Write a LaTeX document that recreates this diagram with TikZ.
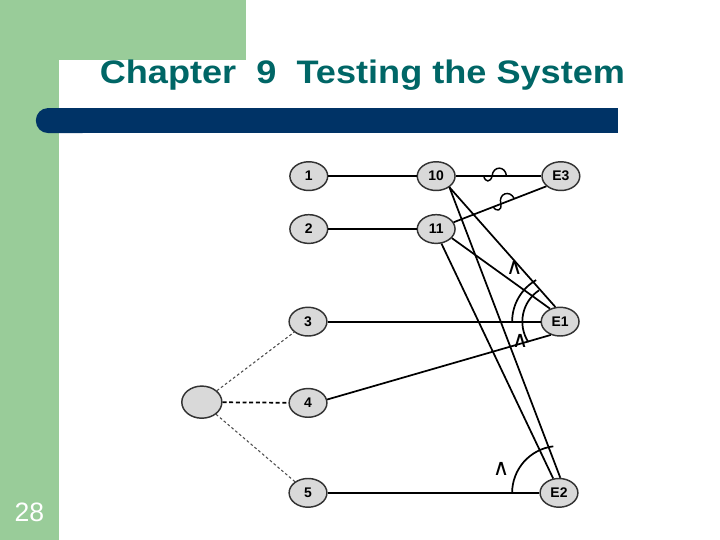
\documentclass[tikz,border=0pt]{standalone}
\usepackage{fontspec}
\setmainfont{Liberation Sans}
\newfontfamily\markfont{DejaVu Sans}
\usetikzlibrary{shapes.geometric}
\definecolor{slidegreen}{RGB}{153,204,153}
\definecolor{slidenavy}{RGB}{0,51,102}
\definecolor{slideteal}{RGB}{0,102,102}
\definecolor{causegray}{RGB}{217,217,217}

\begin{document}
\begin{tikzpicture}[
  cause/.style={ellipse,draw=black!80,line width=1.1pt,fill=causegray,minimum width=1.0cm,minimum height=0.76cm,inner sep=0pt,font=\fontsize{10.5}{11}\selectfont\bfseries},
  wire/.style={line width=1.3pt},
  thinwire/.style={line width=0.8pt,black!70,dash pattern=on 2pt off 1.8pt},
  thickwire/.style={line width=1.3pt,dash pattern=on 3pt off 2pt},
  andmark/.style={inner sep=0pt,font=\markfont\fontsize{17}{17}\selectfont},
  notsign/.pic={\draw[line width=1.1pt] (-0.3,0) .. controls (-0.26,-0.17) and (-0.12,-0.17) .. (-0.08,0) .. controls (-0.06,0.28) and (0.28,0.28) .. (0.3,0);}
]
\useasboundingbox (0,0) rectangle (19.05,-14.2875);
\fill[white] (0,0) rectangle (19.05,-14.2875);
\fill[slidegreen] (0,0) rectangle (6.51,-1.59);
\fill[slidegreen] (0,0) rectangle (1.57,-14.2875);
\fill[white,rounded corners=0.55cm] (1.57,-1.59) rectangle (19.6,-14.9);
\fill[slidenavy,rounded corners=0.32cm] (0.95,-2.86) rectangle (2.5,-3.52);
\fill[slidenavy] (1.8,-2.86) rectangle (16.35,-3.52);
\node[anchor=base,text=slideteal,font=\fontsize{24.5}{28}\selectfont\bfseries] (title) at (9.59,-2.22) {\scalebox{1.11}[1]{Chapter~~9~~Testing the System}};
\node[anchor=base,text=white,font=\fontsize{20}{24}\selectfont] (pagenum) at (0.78,-13.81) {28};

\node[cause,minimum width=1.06cm,minimum height=0.85cm] (c0) at (5.34,-10.64) {};
\node[cause] (c1) at (8.17,-4.66) {1};
\node[cause] (c2) at (8.17,-6.06) {2};
\node[cause] (c3) at (8.15,-8.51) {3};
\node[cause] (c4) at (8.15,-10.66) {4};
\node[cause] (c5) at (8.15,-13.04) {5};
\node[cause] (c10) at (11.54,-4.66) {10};
\node[cause] (c11) at (11.54,-6.06) {11};
\node[cause] (e3) at (14.84,-4.66) {E3};
\node[cause] (e1) at (14.82,-8.51) {E1};
\node[cause] (e2) at (14.79,-13.04) {E2};

\draw[thinwire] (c0) -- (c3);
\draw[thickwire] (c0) -- (c4);
\draw[thinwire] (c0) -- (c5);
\draw[wire] (c1) -- (c10);
\draw[wire] (c2) -- (c11);
\draw[wire] (c10) -- pic[pos=0.46,sloped]{notsign} (e3);
\draw[wire] (c11) -- pic[pos=0.54,sloped]{notsign} (e3.215);
\draw[wire] (c10.-40) -- (e1.108);
\draw[wire] (c11.-30) -- (e1.128);
\draw[wire] (c3) -- (e1);
\draw[wire] (c4.10) -- (e1.235);
\draw[wire] (c10.-40) -- (e2.85);
\draw[wire] (c11.-70) -- (e2.112);
\draw[wire] (c5) -- (e2);
\draw[wire] ([shift={(180:1.27)}]e1.center) arc[start angle=180,end angle=120,radius=1.27];
\draw[wire] ([shift={(213:1.0)}]e1.center) arc[start angle=213,end angle=124,radius=1.0];
\draw[wire] ([shift={(180:1.24)}]e2.center) arc[start angle=180,end angle=97,radius=1.24];
\node[andmark] (and1) at (13.61,-7.08) {∧};
\node[andmark] (and2) at (13.76,-9.03) {∧};
\node[andmark] (and3) at (13.26,-12.42) {∧};
\end{tikzpicture}
\end{document}
